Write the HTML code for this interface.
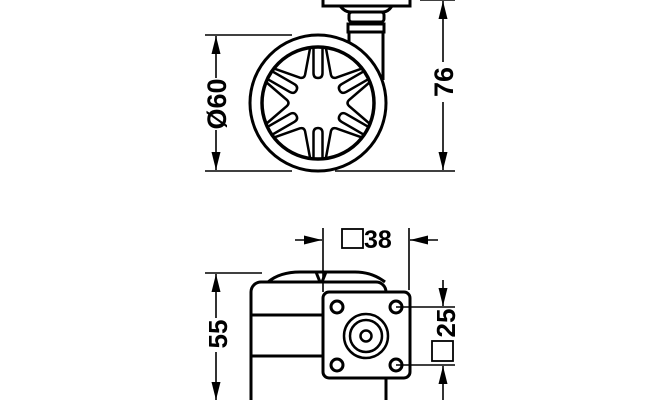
<!DOCTYPE html>
<html><head><style>html,body{margin:0;padding:0;background:#fff}svg{display:block}</style></head>
<body>
<svg width="660" height="400" viewBox="0 0 660 400" xmlns="http://www.w3.org/2000/svg" font-family="Liberation Sans, sans-serif" font-weight="bold">
<defs>
<marker id="a" viewBox="0 0 20 10" refX="20" refY="5" markerWidth="20" markerHeight="9" orient="auto-start-reverse" markerUnits="userSpaceOnUse"><path d="M0,0 L20,5 L0,10 Z" fill="#000"/></marker>
</defs>
<g stroke="#000" fill="none" stroke-width="3">
<rect x="323" y="-3" width="87" height="9" fill="#fff"/>
<path d="M340,6 Q345,12 350,12 L383,12 Q388,12 392,6" />
<rect x="349" y="12" width="35" height="10" rx="3" fill="#fff"/>
<rect x="348" y="24" width="36" height="8" fill="#fff"/>
<path d="M349,32 L349,75 M383,32 L383,80"/>
<circle cx="318" cy="103" r="68" fill="#fff"/>
<circle cx="318" cy="103" r="56" stroke-width="3.5"/>
<g stroke-width="2.5">
<g id="sp"><path d="M313.5,48 L313.5,73 Q313.5,78 318,78 Q322.5,78 322.5,73 L322.5,48"/></g>
<use href="#sp" transform="rotate(60 318 103)"/>
<use href="#sp" transform="rotate(120 318 103)"/>
<use href="#sp" transform="rotate(180 318 103)"/>
<use href="#sp" transform="rotate(240 318 103)"/>
<use href="#sp" transform="rotate(300 318 103)"/>
<g id="v" transform="rotate(30 318 103)"><path d="M297,51 L315,72 Q318,75 321,72 L339,51"/></g>
<use href="#v" transform="rotate(60 318 103)"/>
<use href="#v" transform="rotate(120 318 103)"/>
<use href="#v" transform="rotate(180 318 103)"/>
<use href="#v" transform="rotate(240 318 103)"/>
<use href="#v" transform="rotate(300 318 103)"/>
</g>
</g>
<g stroke="#000" stroke-width="1.6" fill="none">
<path d="M205,35 L292,35 M205,171 L292,171 M420,0 L455,0 M335,171 L455,171"/>
<line x1="216" y1="36" x2="216" y2="78" marker-start="url(#a)"/>
<line x1="216" y1="170" x2="216" y2="130" marker-start="url(#a)"/>
<line x1="443" y1="1" x2="443" y2="62" marker-start="url(#a)"/>
<line x1="443" y1="170" x2="443" y2="102" marker-start="url(#a)"/>
</g>
<text transform="translate(226,104) rotate(-90)" font-size="27" text-anchor="middle">Ø60</text>
<text transform="translate(453,82) rotate(-90)" font-size="27" text-anchor="middle">76</text>

<g stroke="#000" fill="none" stroke-width="3">
<path d="M268,282 Q280,272 300,272 L355,272 Q372,272 385,282"/>
<rect x="251" y="282" width="135" height="130" rx="10" fill="#fff"/>
<path d="M251,315 L323,315 M251,356 L323,356"/>
<path d="M316,272 L320,282 M326,272 L322,282"/>
<rect x="323" y="292" width="87" height="86" rx="6" fill="#fff"/>
<circle cx="337" cy="307" r="6"/><circle cx="396" cy="307" r="6"/>
<circle cx="337" cy="365" r="6"/><circle cx="396" cy="365" r="6"/>
<circle cx="366" cy="336" r="22" stroke-width="2.5"/>
<circle cx="366" cy="336" r="16" stroke-width="2.5"/>
<circle cx="366" cy="336" r="5.5" stroke-width="2.5"/>
</g>
<g stroke="#000" stroke-width="1.6" fill="none">
<path d="M323,228 L323,292 M409,228 L409,290"/>
<line x1="295" y1="240" x2="322" y2="240" marker-end="url(#a)"/>
<line x1="438" y1="240" x2="410" y2="240" marker-end="url(#a)"/>
<path d="M205,273 L262,273"/>
<line x1="216" y1="274" x2="216" y2="318" marker-start="url(#a)"/>
<line x1="216" y1="352" x2="216" y2="400" marker-end="url(#a)"/>
<path d="M396,307 L455,307 M396,365 L455,365"/>
<line x1="443" y1="280" x2="443" y2="306" marker-end="url(#a)"/>
<line x1="443" y1="400" x2="443" y2="366" marker-end="url(#a)"/>
<rect x="342" y="229" width="21" height="19" stroke-width="1.8"/>
<rect x="432" y="341" width="21" height="20" stroke-width="1.8"/>
</g>
<text x="364" y="248" font-size="25">38</text>
<text transform="translate(227,334) rotate(-90)" font-size="26" text-anchor="middle">55</text>
<text transform="translate(455,323) rotate(-90)" font-size="26" text-anchor="middle">25</text>
</svg>
</body></html>
